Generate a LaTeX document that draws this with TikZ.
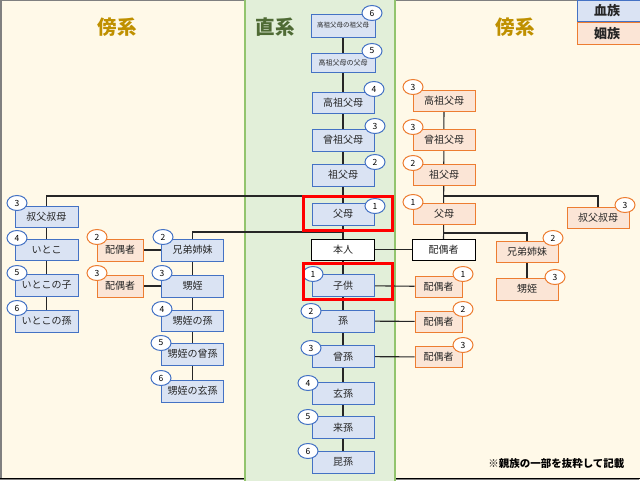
\documentclass[tikz,border=0pt]{standalone}
\usepackage{fontspec}
\setmainfont{Noto Sans CJK JP}
\usetikzlibrary{shapes.geometric}
\pgfdeclarelayer{back}
\pgfdeclarelayer{bg}
\pgfsetlayers{back,bg,main}
\definecolor{cream}{HTML}{FFF9E8}
\definecolor{greenbg}{HTML}{E2EFD9}
\definecolor{greenln}{HTML}{92C46D}
\definecolor{bblue}{HTML}{4472C4}
\definecolor{bfill}{HTML}{DAE3F3}
\definecolor{oorange}{HTML}{ED7D31}
\definecolor{ofill}{HTML}{FBE5D6}
\definecolor{gold}{HTML}{BF9000}
\definecolor{dgreen}{HTML}{4F6B35}
\definecolor{lnk}{HTML}{262626}
\tikzset{
  box/.style={rectangle, line width=1pt, inner sep=0pt, minimum height=22pt, font=\fontsize{10}{10}\selectfont, text=black!85},
  blood/.style={box, draw=bblue, fill=bfill},
  inlaw/.style={box, draw=oorange, fill=ofill},
  self/.style={box, draw=black, fill=white, line width=0.8pt},
  numb/.style={ellipse, draw=bblue, fill=white, line width=1pt, minimum width=20pt, minimum height=15pt, inner sep=0pt, font=\fontsize{8.5}{8.5}\selectfont},
  numo/.style={numb, draw=oorange},
  link/.style={draw=lnk, line width=1.1pt},
  redbox/.style={draw=red, line width=3pt},
  title/.style={font=\fontsize{19.5}{19.5}\selectfont\bfseries}
}
\begin{document}
\begin{tikzpicture}[x=1pt,y=-1pt]
\useasboundingbox (0,0) rectangle (640,480);
\begin{pgfonlayer}{back}
\fill[cream] (0,0) rectangle (640,480);
\draw[gray, line width=1.5pt] (1,0) -- (1,479) -- (639,479);
\draw[gray, line width=1.5pt] (0,0.5) -- (640,0.5);
\draw[black, line width=1.5pt] (0,478.5) -- (640,478.5);
\filldraw[fill=greenbg, draw=greenln, line width=1.8pt] (245,-2) rectangle (395,482);
\end{pgfonlayer}

% titles
\node[title, text=gold] (tl) at (117,27) {傍系};
\node[title, text=dgreen] (tc) at (275,27) {直系};
\node[title, text=gold] (tr) at (515,27) {傍系};

% legend
\node[box, draw=bblue, fill=bfill, minimum width=66pt, minimum height=21pt, font=\fontsize{13}{13}\selectfont\bfseries] (lg1) at (610,10.5) {\hspace*{-6pt}血族};
\node[box, draw=oorange, fill=ofill, minimum width=66pt, minimum height=22pt, font=\fontsize{13}{13}\selectfont\bfseries] (lg2) at (610,33.5) {\hspace*{-6pt}姻族};

% center column
\node[blood, minimum width=64pt, minimum height=23pt, font=\fontsize{6.5}{6.5}\selectfont] (c6) at (343,25.5) {高祖父母の祖父母};
\node[blood, minimum width=64pt, minimum height=19pt, font=\fontsize{7}{7}\selectfont] (c5) at (343,62.5) {高祖父母の父母};
\node[blood, minimum width=62pt, minimum height=21pt] (c4) at (343,102.5) {高祖父母};
\node[blood, minimum width=62pt] (c3) at (343,140) {曾祖父母};
\node[blood, minimum width=62pt] (c2) at (343,175) {祖父母};
\node[blood, minimum width=62pt] (c1) at (343,214) {父母};
\node[self, minimum width=63pt, minimum height=21pt] (me) at (343,249.5) {本人};
\node[blood, minimum width=62pt] (k1) at (343,285.5) {子供};
\node[blood, minimum width=62pt] (k2) at (343,321) {孫};
\node[blood, minimum width=62pt] (k3) at (343,356.5) {曾孫};
\node[blood, minimum width=62pt] (k4) at (343,393.5) {玄孫};
\node[blood, minimum width=62pt] (k5) at (343,427.5) {来孫};
\node[blood, minimum width=62pt] (k6) at (343,462) {昆孫};

% spouses of descendants
\node[self, minimum width=63pt, minimum height=21pt] (sp0) at (443.5,249.5) {配偶者};
\node[inlaw, minimum width=47pt, minimum height=21pt] (sp1) at (438.5,286.5) {配偶者};
\node[inlaw, minimum width=47pt, minimum height=21pt] (sp2) at (438.5,321.5) {配偶者};
\node[inlaw, minimum width=47pt, minimum height=21pt] (sp3) at (438.5,357) {配偶者};

% left collateral
\node[blood, minimum width=63pt, minimum height=21pt] (u) at (46.5,216.5) {叔父叔母};
\node[blood, minimum width=63pt, minimum height=21pt] (i1) at (46.5,249.5) {いとこ};
\node[blood, minimum width=63pt] (i2) at (46.5,285) {いとこの子};
\node[blood, minimum width=63pt] (i3) at (46.5,321) {いとこの孫};
\node[inlaw, minimum width=46pt] (ls2) at (120,250) {配偶者};
\node[inlaw, minimum width=46pt] (ls3) at (120,286) {配偶者};
\node[blood, minimum width=62pt] (s1) at (192.5,250) {兄弟姉妹};
\node[blood, minimum width=62pt] (s2) at (192.5,286) {甥姪};
\node[blood, minimum width=62pt, minimum height=21pt] (s3) at (192.5,320.5) {甥姪の孫};
\node[blood, minimum width=62pt] (s4) at (192.5,354) {甥姪の曾孫};
\node[blood, minimum width=62pt] (s5) at (192.5,391) {甥姪の玄孫};

% right affinal
\node[inlaw, minimum width=62pt, minimum height=21pt] (r4) at (444,100.5) {高祖父母};
\node[inlaw, minimum width=62pt, minimum height=21pt] (r3) at (444,139.5) {曾祖父母};
\node[inlaw, minimum width=62pt, minimum height=21pt] (r2) at (444,174.5) {祖父母};
\node[inlaw, minimum width=62pt, minimum height=21pt] (r1) at (444,213.5) {父母};
\node[inlaw, minimum width=62pt, minimum height=21pt] (ru) at (598,217.5) {叔父叔母};
\node[inlaw, minimum width=62pt, minimum height=21pt] (rs1) at (527,251.5) {兄弟姉妹};
\node[inlaw, minimum width=62pt] (rs2) at (527,289) {甥姪};

% junction coordinates
\coordinate (jL) at (343,196);
\coordinate (jS) at (343,232);
\coordinate (jR) at (444,196);
\coordinate (jR2) at (444,233);

\begin{pgfonlayer}{bg}
\draw[link] (c6.center) -- (k6.center);
\draw[link] (jL) -| (u.center) -- (i3.center);
\draw[link] (jS) -| (s1.center) -- (s5.center);
\draw[link] (ls2) -- (s1);
\draw[link] (ls3) -- (s2);
\draw[link] (me) -- (sp0);
\draw[link] (k1) -- (sp1);
\draw[link] (k2) -- (sp2);
\draw[link] (k3) -- (sp3);
\draw[link] (r4.center) -- (sp0.center);
\draw[link] (jR) -| (ru.center);
\draw[link] (jR2) -| (rs1.center) -- (rs2.center);
\end{pgfonlayer}

% number circles
\node[numb] (n6) at (372,13) {6};
\node[numb] (n5) at (372,51) {5};
\node[numb] (n4) at (374,89) {4};
\node[numb] (n3) at (375,126) {3};
\node[numb] (n2) at (375,162) {2};
\node[numb] (n1) at (375,206) {1};
\node[numb] (m1) at (313,274) {1};
\node[numb] (m2) at (311,311) {2};
\node[numb] (m3) at (311,348) {3};
\node[numb] (m4) at (308,383) {4};
\node[numb] (m5) at (308,417) {5};
\node[numb] (m6) at (308,451) {6};
\node[numo] (q1) at (463,274) {1};
\node[numo] (q2) at (463,309) {2};
\node[numo] (q3) at (463,345) {3};
\node[numb] (ua) at (17,203) {3};
\node[numb] (ia) at (17,238) {4};
\node[numb] (ib) at (17,273) {5};
\node[numb] (ic) at (17,308) {6};
\node[numo] (la) at (97,237) {2};
\node[numo] (lb) at (97,273) {3};
\node[numb] (sa) at (163,237) {2};
\node[numb] (sb) at (162,273) {3};
\node[numb] (sc) at (162,309) {4};
\node[numb] (sd) at (161,343) {5};
\node[numb] (se) at (161,378) {6};
\node[numo] (ra) at (413,87) {3};
\node[numo] (rb) at (413,127) {3};
\node[numo] (rc) at (413,163) {2};
\node[numo] (rd) at (413,202) {1};
\node[numo] (re) at (625,205) {3};
\node[numo] (rf) at (553,238) {2};
\node[numo] (rg) at (555,277) {3};

% highlight boxes
\draw[redbox] (303,196) rectangle (392,230);
\draw[redbox] (303,263) rectangle (392,299);

% footnote
\node[font=\fontsize{10.5}{10.5}\selectfont\bfseries, anchor=east] (fn) at (628,464) {※親族の一部を抜粋して記載};
\end{tikzpicture}
\end{document}
